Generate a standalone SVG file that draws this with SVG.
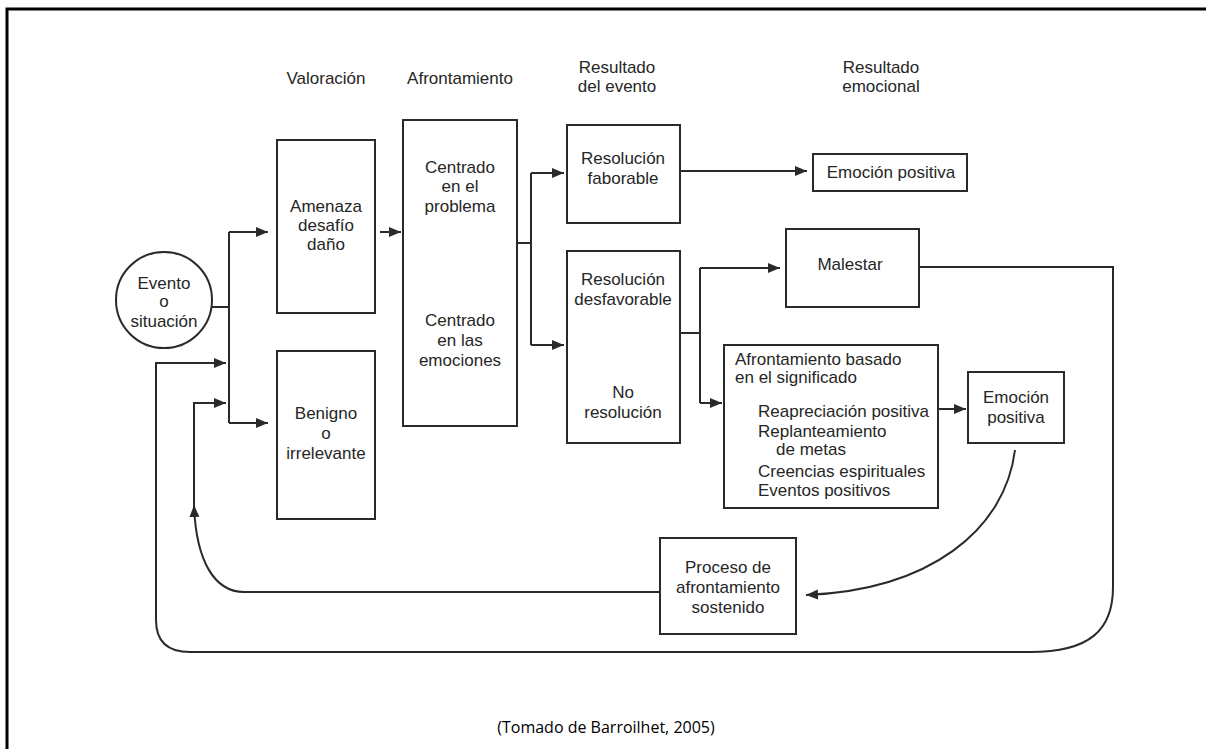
<svg xmlns="http://www.w3.org/2000/svg" width="1206" height="749" viewBox="0 0 1206 749">
  <style>
    text { font-family: "Liberation Sans", Arial, sans-serif; font-size: 17px; fill: #262626; }
    .c { text-anchor: middle; }
    .box { fill: #ffffff; stroke: #2a2a2a; stroke-width: 2; }
    .wire { fill: none; stroke: #2a2a2a; stroke-width: 2; }
    .frame { fill: none; stroke: #000000; stroke-width: 3; }
    .cap { font-family: "Open Sans", "Liberation Sans", sans-serif; font-size: 16px; fill: #000000; }
  </style>
  <defs>
    <marker id="arrow" markerUnits="userSpaceOnUse" markerWidth="14" markerHeight="12" refX="12" refY="5" orient="auto">
      <path d="M0,0 L12,5 L0,10 Z" fill="#2a2a2a"/>
    </marker>
  </defs>

  <rect width="1206" height="749" fill="#ffffff"/>
  <path class="frame" d="M7,749 V9 H1206"/>

  <!-- column headings -->
  <g id="headings">
    <text class="c" x="326" y="84">Valoración</text>
    <text class="c" x="460" y="84">Afrontamiento</text>
    <text class="c" x="617" y="73">Resultado</text>
    <text class="c" x="617" y="92">del evento</text>
    <text class="c" x="881" y="73">Resultado</text>
    <text class="c" x="881" y="92">emocional</text>
  </g>

  <!-- connectors -->
  <g id="connectors">
    <path class="wire" d="M211,307 H229 M229,232 V423"/>
    <path class="wire" d="M229,232 H268" marker-end="url(#arrow)"/>
    <path class="wire" d="M229,423 H268" marker-end="url(#arrow)"/>
    <path class="wire" d="M380,232 H401" marker-end="url(#arrow)"/>
    <path class="wire" d="M517,243 H531 M531,173 V345"/>
    <path class="wire" d="M531,173 H564" marker-end="url(#arrow)"/>
    <path class="wire" d="M531,345 H564" marker-end="url(#arrow)"/>
    <path class="wire" d="M680,171 H807" marker-end="url(#arrow)"/>
    <path class="wire" d="M680,333 H700 M700,268 V403"/>
    <path class="wire" d="M700,268 H780" marker-end="url(#arrow)"/>
    <path class="wire" d="M700,403 H722" marker-end="url(#arrow)"/>
    <path class="wire" d="M938,409 H966" marker-end="url(#arrow)"/>
    <path class="wire" d="M1015,450 C1005,530 930,590 806,595" marker-end="url(#arrow)"/>
    <!-- sustained coping returns to appraisal -->
    <path class="wire" d="M660,592 H244 C215,592 196,562 194,505" marker-end="url(#arrow)"/>
    <path class="wire" d="M194,507 V403 H226" marker-end="url(#arrow)"/>
    <!-- distress returns to appraisal -->
    <path class="wire" d="M919,267 H1113 V587 C1113,630 1090,652 1030,652 H190 C168,652 156,642 156,620 V363 H226" marker-end="url(#arrow)"/>
  </g>

  <g id="evento">
    <circle cx="164" cy="300" r="48" fill="#ffffff" stroke="#2a2a2a" stroke-width="2"/>
    <text class="c" x="164" y="289">Evento</text>
    <text class="c" x="164" y="307">o</text>
    <text class="c" x="164" y="327">situación</text>
  </g>

  <g id="amenaza">
    <rect class="box" x="277" y="140" width="98" height="173"/>
    <text class="c" x="326" y="212">Amenaza</text>
    <text class="c" x="326" y="231">desafío</text>
    <text class="c" x="326" y="250">daño</text>
  </g>

  <g id="benigno">
    <rect class="box" x="277" y="351" width="98" height="168"/>
    <text class="c" x="326" y="419">Benigno</text>
    <text class="c" x="326" y="439">o</text>
    <text class="c" x="326" y="459">irrelevante</text>
  </g>

  <g id="afrontamiento">
    <rect class="box" x="403" y="120" width="114" height="306"/>
    <text class="c" x="460" y="173">Centrado</text>
    <text class="c" x="460" y="192">en el</text>
    <text class="c" x="460" y="212">problema</text>
    <text class="c" x="460" y="326">Centrado</text>
    <text class="c" x="460" y="346">en las</text>
    <text class="c" x="460" y="366">emociones</text>
  </g>

  <g id="res-favorable">
    <rect class="box" x="567" y="125" width="113" height="98"/>
    <text class="c" x="623" y="164">Resolución</text>
    <text class="c" x="623" y="184">faborable</text>
  </g>

  <g id="res-desfavorable">
    <rect class="box" x="567" y="251" width="113" height="192"/>
    <text class="c" x="623" y="285">Resolución</text>
    <text class="c" x="623" y="305">desfavorable</text>
    <text class="c" x="623" y="398">No</text>
    <text class="c" x="623" y="418">resolución</text>
  </g>

  <g id="emocion-positiva-1">
    <rect class="box" x="813" y="154" width="154" height="37"/>
    <text class="c" x="891" y="178">Emoción positiva</text>
  </g>

  <g id="malestar">
    <rect class="box" x="786" y="229" width="133" height="78"/>
    <text class="c" x="850" y="270">Malestar</text>
  </g>

  <g id="afrontamiento-significado">
    <rect class="box" x="724" y="345" width="214" height="163"/>
    <text x="735" y="365">Afrontamiento basado</text>
    <text x="735" y="383">en el significado</text>
    <text x="758" y="417">Reapreciación positiva</text>
    <text x="758" y="437">Replanteamiento</text>
    <text x="776" y="455">de metas</text>
    <text x="758" y="477">Creencias espirituales</text>
    <text x="758" y="496">Eventos positivos</text>
  </g>

  <g id="emocion-positiva-2">
    <rect class="box" x="968" y="372" width="96" height="71"/>
    <text class="c" x="1016" y="403">Emoción</text>
    <text class="c" x="1016" y="423">positiva</text>
  </g>

  <g id="proceso">
    <rect class="box" x="660" y="538" width="136" height="96"/>
    <text class="c" x="728" y="573">Proceso de</text>
    <text class="c" x="728" y="593">afrontamiento</text>
    <text class="c" x="728" y="613">sostenido</text>
  </g>

  <text class="cap c" x="606" y="733">(Tomado de Barroilhet, 2005)</text>
</svg>
